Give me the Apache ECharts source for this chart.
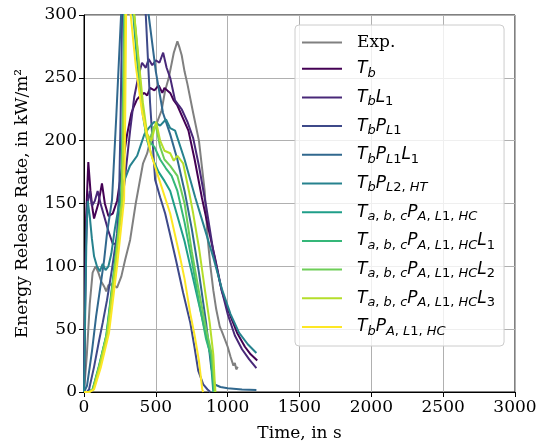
<!DOCTYPE html>
<html>
<head>
<meta charset="utf-8">
<script src="https://cdn.jsdelivr.net/npm/echarts@6/dist/echarts.min.js"></script>
<style>
  html, body { margin: 0; padding: 0; background: #fff; }
  #chart { width: 541px; height: 447px; }
</style>
</head>
<body>
<div id="chart"></div>
<script>
// Energy release rate histories: experiment and model variants, [time s, kW/m²]
const expData = [[0,0],[20,30],[40,70],[60,95],[80,100],[100,95],[120,88],[140,84],[155,80],[170,85],[200,86],[230,83],[260,92],[286,105],[321,121],[360,150],[411,182],[440,190],[470,205],[500,212],[540,224],[565,240],[590,250],[625,270],[650,279],[665,274],[680,268],[700,255],[720,245],[760,222],[800,200],[840,160],[860,123],[880,100],[900,81],[920,66],[945,52],[960,48],[970,45],[1000,36],[1020,28],[1040,21],[1050,23],[1060,18],[1070,20]];
const tb = [[0,0],[15,140],[30,183],[45,160],[60,145],[70,138],[80,142],[100,150],[125,166],[145,150],[170,140],[200,142],[230,152],[260,175],[300,205],[330,222],[350,228],[370,233],[395,236],[420,238],[440,236],[460,242],[490,240],[520,244],[545,238],[560,242],[600,238],[625,232],[650,228],[700,215],[727,208],[770,185],[820,155],[870,128],[913,106],[960,80],[1004,65],[1066,47],[1120,36],[1160,30],[1206,25]];
const tbL1 = [[0,0],[12,110],[25,150],[40,160],[55,148],[75,152],[95,160],[115,150],[140,140],[170,128],[200,118],[225,118],[250,135],[280,165],[321,208],[350,235],[380,252],[404,262],[430,258],[450,265],[475,260],[500,264],[525,262],[551,270],[575,258],[600,250],[634,232],[660,228],[680,225],[720,215],[760,202],[800,180],[850,148],[900,112],[950,85],[1000,62],[1050,45],[1100,34],[1150,26],[1200,19]];
const tbPL1 = [[0,0],[20,0],[35,2],[70,20],[105,41],[130,55],[160,73],[195,98],[230,126],[245,160],[255,220],[265,300],[290,340],[340,350],[390,330],[430,300],[460,230],[495,169],[530,155],[565,142],[600,125],[640,105],[690,79],[740,55],[770,35],[795,17],[830,6],[860,2],[880,0]];
const tbPL1L1 = [[0,0],[10,1],[21,5],[40,20],[56,33],[84,60],[118,87],[140,105],[160,126],[195,153],[225,220],[258,300],[290,340],[360,350],[420,320],[450,300],[500,255],[550,222],[600,205],[650,185],[700,160],[750,130],[800,95],[850,55],[885,20],[910,6],[950,4],[1000,3],[1100,2],[1200,1.5]];
const tbPL2HT = [[0,0],[8,60],[18,130],[26,152],[40,140],[55,122],[70,108],[90,100],[110,96],[130,102],[150,97],[170,100],[190,110],[215,130],[245,150],[280,168],[320,180],[370,188],[420,205],[450,210],[488,215],[530,212],[571,217],[600,210],[634,208],[700,185],[774,155],[840,130],[900,107],[960,82],[1020,62],[1080,47],[1140,38],[1200,31]];
const tabcPA = [[0,0],[30,0],[60,2],[100,18],[155,45],[210,98],[258,150],[270,220],[280,300],[300,340],[330,320],[350,290],[380,250],[410,220],[440,200],[480,185],[520,175],[560,168],[600,160],[650,140],[700,120],[750,95],[800,70],[850,45],[880,30],[893,10],[900,0]];
const tabcPAL1 = [[0,0],[30,0],[60,2],[100,19],[158,46],[213,99],[260,151],[272,220],[283,300],[305,340],[340,310],[360,285],[390,245],[420,215],[450,200],[490,195],[530,185],[570,178],[610,172],[650,160],[700,135],[750,105],[800,72],[850,42],[885,28],[900,10],[905,0]];
const tabcPAL2 = [[0,0],[35,0],[65,2],[105,19],[160,46],[215,99],[262,151],[274,220],[285,300],[310,345],[345,305],[370,275],[400,235],[430,205],[455,195],[480,210],[500,212],[530,195],[560,185],[600,180],[650,172],[700,150],[750,112],[800,80],[850,50],[890,30],[905,8],[910,0]];
const tabcPAL3 = [[0,0],[35,0],[65,2],[105,19],[162,46],[218,99],[265,151],[276,220],[287,300],[310,345],[350,300],[380,265],[410,230],[440,205],[470,200],[502,215],[530,200],[560,192],[600,190],[625,184],[650,188],[690,182],[730,160],[760,142],[800,115],[843,80],[875,55],[900,30],[910,8],[915,0]];
const tbPAL1HC = [[0,0],[40,0],[70,2],[118,20],[174,47],[230,100],[279,153],[287,220],[293,300],[310,330],[325,300],[360,260],[404,223],[465,190],[535,165],[600,142],[669,107],[700,90],[739,63],[770,45],[800,25],[815,10],[823,2],[830,0]];

const seriesNames = ['Exp.','Tb','TbL1','TbPL1','TbPL1L1','TbPL2HT','TabcPA','TabcPAL1','TabcPAL2','TabcPAL3','TbPAL1HC'];
const seriesData = [expData, tb, tbL1, tbPL1, tbPL1L1, tbPL2HT, tabcPA, tabcPAL1, tabcPAL2, tabcPAL3, tbPAL1HC];
const seriesColors = ['#808080','#440154','#482878','#3e4989','#31688e','#26828e','#1f9e89','#35b779','#6ece58','#b5de2b','#fde725'];

const xTicks = [0, 500, 1000, 1500, 2000, 2500, 3000];
const yTicks = [0, 50, 100, 150, 200, 250, 300];

// Legend labels with italic symbols and subscripts (rich text)
const PA = '{i|P}{s|A}{sd|, }{s|L}{sd|1, }{s|HC}';
const Tabc = '{i|T}{s|a}{sd|, }{s|b}{sd|, }{s|c}';
const legendLabels = {
  'Exp.': '{r|Exp.}',
  'Tb': '{i|T}{s|b}',
  'TbL1': '{i|T}{s|b}{i|L}{sd|1}',
  'TbPL1': '{i|T}{s|b}{i|P}{s|L}{sd|1}',
  'TbPL1L1': '{i|T}{s|b}{i|P}{s|L}{sd|1}{i|L}{sd|1}',
  'TbPL2HT': '{i|T}{s|b}{i|P}{s|L}{sd|2, }{s|HT}',
  'TabcPA': Tabc + PA,
  'TabcPAL1': Tabc + PA + '{i|L}{sd|1}',
  'TabcPAL2': Tabc + PA + '{i|L}{sd|2}',
  'TabcPAL3': Tabc + PA + '{i|L}{sd|3}',
  'TbPAL1HC': '{i|T}{s|b}' + PA
};

const serif = 'DejaVu Serif';
const sans = 'DejaVu Sans';

const chart = echarts.init(document.getElementById('chart'), null, { renderer: 'canvas' });
chart.setOption({
  animation: false,
  backgroundColor: '#ffffff',
  grid: { left: 84, right: 26, top: 15, bottom: 55, show: true, borderColor: '#000', borderWidth: 1, backgroundColor: 'transparent' },
  xAxis: {
    type: 'value', min: 0, max: 3000, interval: 500,
    name: 'Time, in s', nameLocation: 'middle', nameGap: 33,
    nameTextStyle: { fontFamily: serif, fontSize: 17, color: '#000' },
    axisLine: { show: true, lineStyle: { color: '#000', width: 1 } },
    axisTick: { show: true, length: 5, lineStyle: { color: '#000' } },
    axisLabel: { fontFamily: serif, fontSize: 17, color: '#000', margin: 7,
      formatter: v => String(v) },
    splitLine: { show: true, lineStyle: { color: '#b0b0b0', width: 1 } }
  },
  yAxis: {
    type: 'value', min: 0, max: 300, interval: 50,
    name: 'Energy Release Rate, in kW/m²', nameLocation: 'middle', nameGap: 53,
    nameTextStyle: { fontFamily: serif, fontSize: 17, color: '#000' },
    axisLine: { show: true, lineStyle: { color: '#000', width: 1 } },
    axisTick: { show: true, length: 5, lineStyle: { color: '#000' } },
    axisLabel: { fontFamily: serif, fontSize: 17, color: '#000', margin: 7,
      formatter: v => String(v) },
    splitLine: { show: true, lineStyle: { color: '#b0b0b0', width: 1 } }
  },
  legend: {
    orient: 'vertical', left: 295, top: 25,
    padding: [9, 9, 8, 7],
    itemWidth: 40, itemHeight: 14, itemGap: 9.2,
    backgroundColor: 'rgba(255,255,255,0.8)',
    borderColor: '#cccccc', borderWidth: 1, borderRadius: 4,
    data: seriesNames.map(n => ({ name: n, icon: 'path://M0,0 L40,0 L40,2 L0,2 Z' })),
    formatter: name => legendLabels[name],
    textStyle: {
      padding: [0, 0, 0, 10],
      rich: {
        r: { fontFamily: serif, fontSize: 17, color: '#000', lineHeight: 22 },
        i: { fontFamily: sans, fontStyle: 'italic', fontSize: 17, color: '#000', lineHeight: 22 },
        s: { fontFamily: sans, fontStyle: 'italic', fontSize: 13, color: '#000', lineHeight: 12, verticalAlign: 'bottom' },
        sd: { fontFamily: sans, fontSize: 13, color: '#000', lineHeight: 12, verticalAlign: 'bottom' }
      }
    }
  },
  series: seriesNames.map((n, k) => ({
    name: n, type: 'line', data: seriesData[k], symbol: 'none', showSymbol: false,
    color: seriesColors[k],
    lineStyle: { color: seriesColors[k], width: 2 },
    z: 2 + k
  }))
});
</script>
</body>
</html>
